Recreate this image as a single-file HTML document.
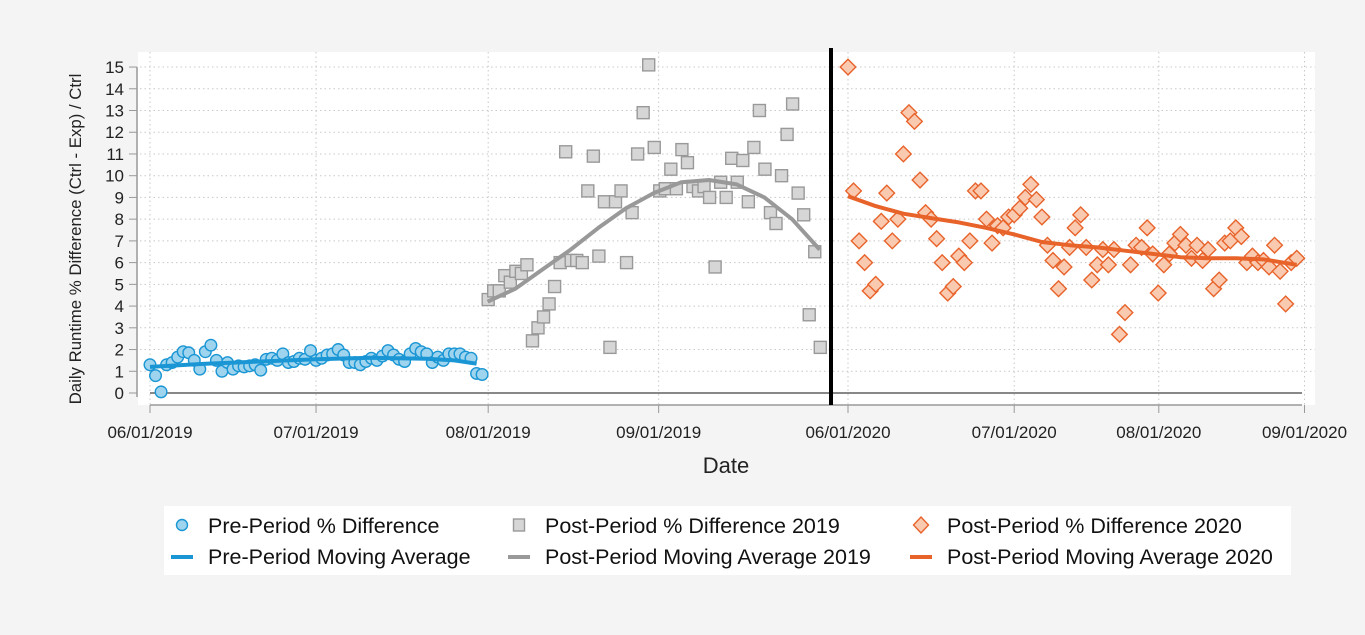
<!DOCTYPE html>
<html><head><meta charset="utf-8"><style>
body{margin:0;background:#f4f4f4;}
svg{display:block;font-family:"Liberation Sans",Arial,sans-serif;}
</style></head><body>
<svg id="chart" width="1365" height="635" xmlns="http://www.w3.org/2000/svg"></svg>
<script>
const yTicks=[0,1,2,3,4,5,6,7,8,9,10,11,12,13,14,15];
const xTickLabels2019=["06/01/2019","07/01/2019","08/01/2019","09/01/2019"];
const xTickIdx2019=[0,30,61.1,91.9];
const xTickLabels2020=["06/01/2020","07/01/2020","08/01/2020","09/01/2020"];
const xTickIdx2020=[0,30,56.1,82.4];
const preValues=[1.3,0.8,0.05,1.3,1.4,1.65,1.9,1.85,1.5,1.1,1.9,2.2,1.5,1.0,1.4,1.1,1.25,1.2,1.25,1.3,1.05,1.55,1.6,1.5,1.8,1.4,1.45,1.6,1.55,1.95,1.5,1.6,1.75,1.8,2.0,1.75,1.4,1.4,1.3,1.45,1.6,1.5,1.7,1.95,1.75,1.55,1.45,1.8,2.05,1.9,1.8,1.4,1.65,1.5,1.8,1.8,1.8,1.65,1.6,0.9,0.85];
const preMAIdx=[0,10,20,30,40,50,55,59];
const preMA=[1.2,1.35,1.45,1.55,1.62,1.58,1.5,1.35];
const post19Start=61.1;
const post19Values=[4.3,4.7,4.7,5.4,5.1,5.6,5.5,5.9,2.4,3.0,3.5,4.1,4.9,6.0,11.1,6.1,6.1,6.0,9.3,10.9,6.3,8.8,2.1,8.8,9.3,6.0,8.3,11.0,12.9,15.1,11.3,9.3,9.4,10.3,9.4,11.2,10.6,9.5,9.3,9.5,9.0,5.8,9.7,9.0,10.8,9.7,10.7,8.8,11.3,13.0,10.3,8.3,7.8,10.0,11.9,13.3,9.2,8.2,3.6,6.5,2.1];
const post19MAIdx=[61,66,71,76,81,86,91,96,101,106,111,116,121];
const post19MA=[4.2,4.8,5.7,6.6,7.6,8.5,9.2,9.7,9.8,9.6,9.0,8.0,6.6];
const post20Values=[15.0,9.3,7.0,6.0,4.7,5.0,7.9,9.2,7.0,8.0,11.0,12.9,12.5,9.8,8.3,8.0,7.1,6.0,4.6,4.9,6.3,6.0,7.0,9.3,9.3,8.0,6.9,7.7,7.6,8.1,8.2,8.5,9.0,9.6,8.9,8.1,6.8,6.1,4.8,5.8,6.7,7.6,8.2,6.7,5.2,5.9,6.6,5.9,6.6,2.7,3.7,5.9,6.8,6.7,7.6,6.4,4.6,5.9,6.4,6.9,7.3,6.8,6.2,6.8,6.1,6.6,4.8,5.2,6.9,7.0,7.6,7.2,6.0,6.3,6.0,6.1,5.8,6.8,5.6,4.1,6.0,6.2];
const post20MAIdx=[0,5,10,15,20,25,30,35,40,45,50,55,60,65,70,75,81];
const post20MA=[9.05,8.6,8.25,8.05,7.85,7.6,7.3,6.95,6.8,6.7,6.55,6.4,6.25,6.2,6.2,6.15,5.9];

const svg=document.getElementById('chart');
const NS='http://www.w3.org/2000/svg';
function mk(tag,attrs,parent){const e=document.createElementNS(NS,tag);for(const k in attrs)e.setAttribute(k,attrs[k]);(parent||svg).appendChild(e);return e;}
const y=v=>393-v*21.73;
const x19=i=>150+i*5.535;
const x20=i=>848+i*5.54;

let bg=mk('rect',{x:138,y:52,width:1177,height:353,fill:'#fff'});



yTicks.forEach(v=>{
  if(v>0){let g=mk('line',{x1:140,x2:1315,y1:y(v),y2:y(v),stroke:'#c8c8c8','stroke-dasharray':'1.5,3'});
  
  }
  let t=mk('line',{x1:129,x2:137,y1:y(v),y2:y(v),stroke:'#999'});
  
  
  let l=mk('text',{x:124,y:y(v)+6,'text-anchor':'end','font-size':17,fill:'#222'});l.textContent=v;
  
  
});
let ya=mk('line',{x1:137,x2:137,y1:y(15),y2:y(0)+4,stroke:'#999','stroke-width':1.5});


let xa=mk('line',{x1:150,x2:1302,y1:405,y2:405,stroke:'#999','stroke-width':1.5});


function xtick(px,lab){
  let g=mk('line',{x1:px,x2:px,y1:52,y2:405,stroke:'#c8c8c8','stroke-dasharray':'1.5,3'});
  
  
  let t=mk('line',{x1:px,x2:px,y1:405,y2:413,stroke:'#999'});
  
  
  let l=mk('text',{x:px,y:438,'text-anchor':'middle','font-size':17,fill:'#222'});l.textContent=lab;
  
  
}
xTickIdx2019.forEach((d,i)=>xtick(x19(d),xTickLabels2019[i]));
xTickIdx2020.forEach((d,i)=>xtick(x20(d),xTickLabels2020[i]));
let zl=mk('line',{x1:150,x2:1302,y1:y(0),y2:y(0),stroke:'#111','stroke-width':1});



function line(xs,ys,fx,color,name){
  const d=xs.map((v,i)=>(i?'L':'M')+fx(v).toFixed(1)+','+y(ys[i]).toFixed(1)).join(' ');
  let p=mk('path',{d:d,fill:'none',stroke:color,'stroke-width':4,'stroke-linejoin':'round','stroke-linecap':'butt'});
  
  
}
preValues.forEach((v,i)=>{
  let c=mk('circle',{cx:x19(i),cy:y(v),r:5.8,fill:'#9fd4ee',stroke:'#1a96d4','stroke-width':1.4});
  
  
});
line(preMAIdx,preMA,x19,'#1a96d4','pre-period-moving-average');
post19Values.forEach((v,i)=>{
  const cx=x19(post19Start+i);
  let r=mk('rect',{x:cx-6,y:y(v)-6,width:12,height:12,fill:'#d6d6d6',stroke:'#999','stroke-width':1.4});
  
  
});
line(post19MAIdx,post19MA,x19,'#999','post-2019-moving-average');
post20Values.forEach((v,i)=>{
  const cx=x20(i),cy=y(v);
  let p=mk('polygon',{points:`${cx},${cy-7.8} ${cx+7.8},${cy} ${cx},${cy+7.8} ${cx-7.8},${cy}`,fill:'#f9c9b0',stroke:'#e8632a','stroke-width':1.4});
  
  
});
line(post20MAIdx,post20MA,x20,'#e8632a','post-2020-moving-average');
let vl=mk('line',{x1:831,x2:831,y1:48,y2:405,stroke:'#000','stroke-width':4});



let xt=mk('text',{x:726,y:473,'text-anchor':'middle','font-size':22,fill:'#222'});xt.textContent='Date';


let yt=mk('text',{x:0,y:0,'text-anchor':'middle','font-size':16.8,fill:'#222',transform:'translate(81,239) rotate(-90)'});yt.textContent='Daily Runtime % Difference (Ctrl - Exp) / Ctrl';



let lg=mk('rect',{x:164,y:506,width:1127,height:69,fill:'#fff'});


const cols=[182,519,921];
const labels=[["Pre-Period % Difference","Pre-Period Moving Average"],["Post-Period % Difference 2019","Post-Period Moving Average 2019"],["Post-Period % Difference 2020","Post-Period Moving Average 2020"]];
const cols2=['#1a96d4','#999','#e8632a'];
cols.forEach((cx,k)=>{
  let m;
  if(k==0)m=mk('circle',{cx:cx,cy:525,r:5.5,fill:'#9fd4ee',stroke:'#1a96d4','stroke-width':1.4});
  else if(k==1)m=mk('rect',{x:cx-5.5,y:519,width:11,height:12,fill:'#d6d6d6',stroke:'#999','stroke-width':1.4});
  else m=mk('polygon',{points:`${cx},${517} ${cx+7.5},${525} ${cx},${533} ${cx-7.5},${525}`,fill:'#f9c9b0',stroke:'#e8632a','stroke-width':1.4});
  
  
  let ln=mk('line',{x1:cx-11,x2:cx+11,y1:557,y2:557,stroke:cols2[k],'stroke-width':4});
  
  
  [0,1].forEach(r=>{
    let t=mk('text',{x:cx+26,y:533+r*31,'font-size':21.5,fill:'#111'});t.textContent=labels[k][r];
    
    
  });
});
</script>
</body></html>
